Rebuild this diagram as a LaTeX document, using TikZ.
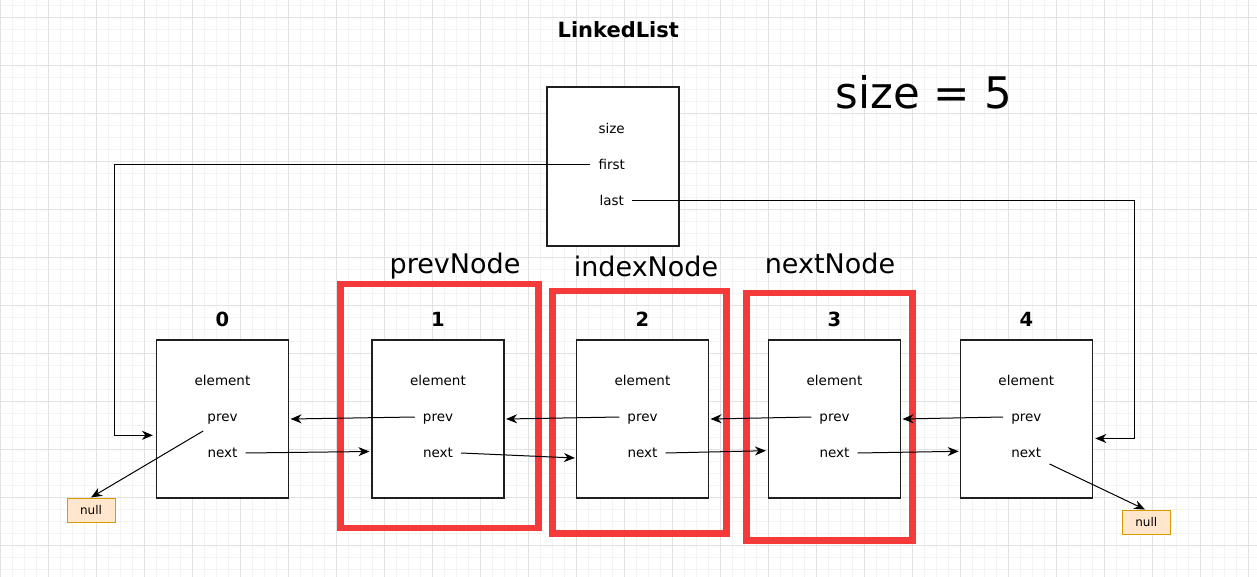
\documentclass[tikz,border=0pt]{standalone}
\usepackage{fontspec}
\setmainfont{DejaVu Sans}
\usetikzlibrary{arrows.meta,calc}
\definecolor{gridminor}{HTML}{F3F3F3}
\definecolor{gridmajor}{HTML}{E2E2E2}
\definecolor{hired}{HTML}{F53A3A}
\definecolor{nullfill}{HTML}{FFE6CC}
\definecolor{nulldraw}{HTML}{D79B00}
\begin{document}
\begin{tikzpicture}[x=1pt,y=-1pt,
  arr/.style={-{Stealth[length=11pt,width=9pt,inset=3.5pt]},line width=1pt},
  nodebox/.style={draw=black!88,line width=1.1pt,fill=white,minimum width=132pt,minimum height=158pt,inner sep=0pt},
  field/.style={font=\fontsize{13.5}{16}\selectfont,inner xsep=8pt,inner ysep=3pt,text height=9.5pt,text depth=0pt},
  idx/.style={font=\fontsize{19.5}{22}\selectfont\bfseries,anchor=base},
  hl/.style={draw=hired,line width=6.5pt,inner sep=0pt,outer sep=0pt},
  hllabel/.style={font=\fontsize{27}{30}\selectfont,anchor=base},
  nullbox/.style={draw=nulldraw,fill=nullfill,line width=1pt,minimum width=48pt,minimum height=24pt,inner sep=0pt,font=\fontsize{12}{14}\selectfont}]
\useasboundingbox (0,0) rectangle (1257,577);
\fill[white] (0,0) rectangle (1257,577);
% grid
\foreach \i in {0,...,104} {\draw[gridminor,line width=0.8pt] ({0.3+12*\i},0) -- ({0.3+12*\i},577);}
\foreach \i in {0,...,47} {\draw[gridminor,line width=0.8pt] (0,{5.3+12*\i}) -- (1257,{5.3+12*\i});}
\foreach \i in {0,...,26} {\draw[gridmajor,line width=0.9pt] ({0.3+48*\i},0) -- ({0.3+48*\i},577);}
\foreach \i in {0,...,11} {\draw[gridmajor,line width=0.9pt] (0,{17.3+48*\i}) -- (1257,{17.3+48*\i});}

% title and size
\node[font=\fontsize{21}{24}\selectfont\bfseries,anchor=base] (title) at (618.3,37.7) {LinkedList};
\node[font=\fontsize{43.5}{48}\selectfont,anchor=base] (sz) at (923.7,109) {size = 5};

% LinkedList box
\node[nodebox,minimum height=159pt] (ll) at (613,166.5) {};
\node[field] (fs) at (611.7,129) {size};
\node[field] (ff) at (611.7,165) {first};
\node[field] (fl) at (611.7,200.7) {last};

% red highlight boxes
\node[hl,minimum width=198pt,minimum height=244pt] (r1) at (439.7,406) {};
\node[hl,minimum width=173.8pt,minimum height=242.5pt] (r2) at (639.4,412) {};
\node[hl,minimum width=165.6pt,minimum height=247.3pt] (r3) at (829.5,416.7) {};
\node[hllabel] (lp) at (455,273.3) {prevNode};
\node[hllabel] (li) at (646,276.7) {indexNode};
\node[hllabel] (ln) at (830,273.3) {nextNode};

% list nodes
\foreach \k/\x in {0/222.5,1/438,2/642.5,3/834.5,4/1026.3} {
  \node[nodebox] (b\k) at (\x,419) {};
  \node[idx] (t\k) at (\x,326) {\k};
  \node[field] (e\k) at (\x,381) {element};
  \node[field] (p\k) at (\x,417) {prev};
  \node[field] (n\k) at (\x,453) {next};
}

% null boxes
\node[nullbox] (nl) at (91,510) {null};
\node[nullbox] (nr) at (1146.3,522) {null};

% first / last
\coordinate (cf) at (114.5,435.3);
\coordinate (cl) at (1134.5,438.5);
\draw[arr] (ff.west) -| (cf) -- ([xshift=-3pt]b0.west |- cf);
\draw[arr] (fl.east) -| (cl) -- ([xshift=2.5pt]b4.east |- cl);

% prev arrows
\draw[arr] (p1.west) -- ([xshift=1.5pt]b0.east);
\draw[arr] (p2.west) -- ([xshift=1.5pt]b1.east);
\draw[arr] (p3.west) -- ([xshift=1.5pt]b2.east);
\draw[arr] (p4.west) -- ([xshift=1.5pt]b3.east);

% next arrows
\draw[arr] (n0.east) -- ([xshift=-2pt,yshift=-32.5pt]b1.west);
\draw[arr] (n1.east) -- ([xshift=-1pt,yshift=-39pt]b2.west);
\draw[arr] (n2.east) -- ([xshift=-2pt,yshift=-31.7pt]b3.west);
\draw[arr] (n3.east) -- ([xshift=-1pt,yshift=-32.3pt]b4.west);

% to null
\draw[arr] ([xshift=4pt,yshift=-6pt]p0.south west) -- (nl.north);
\draw[arr] ([yshift=-3pt]n4.south east) -- ([xshift=-1.3pt]nr.north);
\end{tikzpicture}
\end{document}
